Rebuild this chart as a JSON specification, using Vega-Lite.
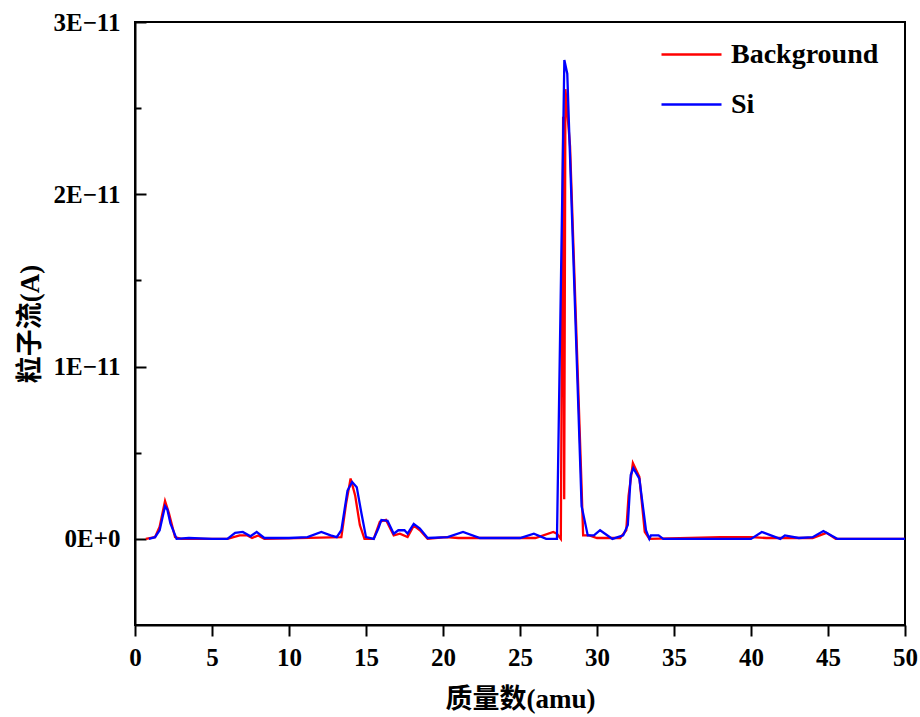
{
  "$schema": "https://vega.github.io/schema/vega-lite/v6.json",
  "width": 770,
  "height": 603,
  "autosize": "none",
  "padding": {"left": 135, "top": 22, "right": 15, "bottom": 92},
  "background": "white",
  "config": {
    "view": {"stroke": "black", "strokeWidth": 2},
    "font": "Liberation Serif"
  },
  "datasets": {
    "bg": [
      {"amu": 0.7, "v": 0.0}, {"amu": 1.3, "v": 0.01}, {"amu": 1.6, "v": 0.07}, {"amu": 1.95, "v": 0.22},
      {"amu": 2.2, "v": 0.15}, {"amu": 2.6, "v": 0.01}, {"amu": 3.0, "v": 0.0}, {"amu": 6.0, "v": 0.0},
      {"amu": 6.8, "v": 0.02}, {"amu": 7.3, "v": 0.02}, {"amu": 7.6, "v": 0.005}, {"amu": 8.0, "v": 0.02},
      {"amu": 8.4, "v": 0.0}, {"amu": 13.4, "v": 0.01}, {"amu": 13.7, "v": 0.2}, {"amu": 14.0, "v": 0.35},
      {"amu": 14.3, "v": 0.25}, {"amu": 14.6, "v": 0.08}, {"amu": 14.9, "v": 0.0}, {"amu": 15.5, "v": 0.0},
      {"amu": 15.9, "v": 0.1}, {"amu": 16.3, "v": 0.11}, {"amu": 16.8, "v": 0.02}, {"amu": 17.2, "v": 0.03},
      {"amu": 17.7, "v": 0.01}, {"amu": 18.1, "v": 0.077}, {"amu": 18.5, "v": 0.05}, {"amu": 19.0, "v": 0.0},
      {"amu": 20.2, "v": 0.01}, {"amu": 21.0, "v": 0.005}, {"amu": 26.0, "v": 0.005}, {"amu": 27.16, "v": 0.04},
      {"amu": 27.4, "v": 0.03}, {"amu": 27.65, "v": 0.0}, {"amu": 27.8, "v": 2.45}, {"amu": 27.87, "v": 0.23},
      {"amu": 27.95, "v": 2.61}, {"amu": 28.25, "v": 2.28}, {"amu": 29.0, "v": 0.3}, {"amu": 29.1, "v": 0.02},
      {"amu": 29.5, "v": 0.02}, {"amu": 30.0, "v": 0.005}, {"amu": 31.5, "v": 0.005}, {"amu": 31.9, "v": 0.05},
      {"amu": 32.05, "v": 0.25}, {"amu": 32.33, "v": 0.44}, {"amu": 32.75, "v": 0.36}, {"amu": 33.1, "v": 0.04},
      {"amu": 33.4, "v": 0.0}, {"amu": 38.0, "v": 0.01}, {"amu": 40.0, "v": 0.01}, {"amu": 41.0, "v": 0.005},
      {"amu": 44.0, "v": 0.005}, {"amu": 44.9, "v": 0.035}, {"amu": 45.5, "v": 0.0}, {"amu": 50.0, "v": 0.0}
    ],
    "si": [
      {"amu": 0.9, "v": 0.0}, {"amu": 1.3, "v": 0.01}, {"amu": 1.6, "v": 0.05}, {"amu": 1.95, "v": 0.19},
      {"amu": 2.1, "v": 0.17}, {"amu": 2.3, "v": 0.09}, {"amu": 2.7, "v": 0.0}, {"amu": 3.5, "v": 0.005},
      {"amu": 5.0, "v": 0.0}, {"amu": 6.0, "v": 0.0}, {"amu": 6.5, "v": 0.035}, {"amu": 7.0, "v": 0.04},
      {"amu": 7.5, "v": 0.015}, {"amu": 7.9, "v": 0.04}, {"amu": 8.4, "v": 0.005}, {"amu": 10.0, "v": 0.005},
      {"amu": 11.2, "v": 0.01}, {"amu": 12.1, "v": 0.04}, {"amu": 12.7, "v": 0.02}, {"amu": 13.1, "v": 0.01},
      {"amu": 13.4, "v": 0.05}, {"amu": 13.8, "v": 0.28}, {"amu": 14.1, "v": 0.33}, {"amu": 14.4, "v": 0.3},
      {"amu": 14.7, "v": 0.15}, {"amu": 15.0, "v": 0.01}, {"amu": 15.5, "v": 0.0}, {"amu": 15.8, "v": 0.06},
      {"amu": 16.0, "v": 0.11}, {"amu": 16.4, "v": 0.105}, {"amu": 16.8, "v": 0.03}, {"amu": 17.1, "v": 0.05},
      {"amu": 17.5, "v": 0.05}, {"amu": 17.7, "v": 0.03}, {"amu": 18.1, "v": 0.087}, {"amu": 18.5, "v": 0.06},
      {"amu": 19.0, "v": 0.005}, {"amu": 20.3, "v": 0.01}, {"amu": 21.3, "v": 0.04}, {"amu": 22.4, "v": 0.005},
      {"amu": 25.0, "v": 0.005}, {"amu": 25.9, "v": 0.03}, {"amu": 26.7, "v": 0.0}, {"amu": 27.4, "v": 0.0},
      {"amu": 27.88, "v": 2.78}, {"amu": 28.07, "v": 2.7}, {"amu": 29.0, "v": 0.19}, {"amu": 29.4, "v": 0.02},
      {"amu": 29.8, "v": 0.02}, {"amu": 30.2, "v": 0.05}, {"amu": 31.0, "v": 0.0}, {"amu": 31.7, "v": 0.02},
      {"amu": 32.0, "v": 0.08}, {"amu": 32.19, "v": 0.37}, {"amu": 32.36, "v": 0.41}, {"amu": 32.75, "v": 0.35},
      {"amu": 33.18, "v": 0.05}, {"amu": 33.4, "v": 0.0}, {"amu": 33.5, "v": 0.02}, {"amu": 34.0, "v": 0.02},
      {"amu": 34.3, "v": 0.0}, {"amu": 40.0, "v": 0.0}, {"amu": 40.7, "v": 0.04}, {"amu": 41.9, "v": 0.0},
      {"amu": 42.2, "v": 0.02}, {"amu": 43.1, "v": 0.005}, {"amu": 44.0, "v": 0.01}, {"amu": 44.7, "v": 0.045},
      {"amu": 45.6, "v": 0.0}, {"amu": 50.0, "v": 0.0}
    ]
  },
  "layer": [
    {
      "data": {"name": "bg"},
      "transform": [{"calculate": "'Background'", "as": "series"}, {"calculate": "datum.v * 1e-11", "as": "current"}],
      "mark": {"type": "line", "strokeWidth": 2.3, "clip": true},
      "encoding": {
        "x": {"field": "amu", "type": "quantitative"},
        "y": {"field": "current", "type": "quantitative"},
        "color": {"field": "series", "type": "nominal"}
      }
    },
    {
      "data": {"name": "si"},
      "transform": [{"calculate": "'Si'", "as": "series"}, {"calculate": "datum.v * 1e-11", "as": "current"}],
      "mark": {"type": "line", "strokeWidth": 2.3, "clip": true},
      "encoding": {
        "x": {
          "field": "amu", "type": "quantitative",
          "scale": {"domain": [0, 50], "nice": false, "zero": false},
          "axis": {
            "title": "质量数(amu)",
            "titleFont": "Liberation Serif, Noto Sans CJK SC",
            "titleFontSize": 27, "titleFontWeight": "bold", "titleColor": "black", "titlePadding": 16,
            "values": [0, 2.5, 5, 7.5, 10, 12.5, 15, 17.5, 20, 22.5, 25, 27.5, 30, 32.5, 35, 37.5, 40, 42.5, 45, 47.5, 50],
            "labelExpr": "datum.value % 5 == 0 ? datum.label : ''",
            "tickSize": {"condition": {"test": "datum.value % 5 == 0", "value": 11}, "value": 6},
            "labelFontSize": 25, "labelFontWeight": "bold", "labelColor": "black", "labelPadding": 9,
            "domainColor": "black", "domainWidth": 2, "tickColor": "black", "tickWidth": 2,
            "grid": false, "labelFlush": false
          }
        },
        "y": {
          "field": "current", "type": "quantitative",
          "scale": {"domain": [-5e-12, 3e-11], "nice": false, "zero": false},
          "axis": {
            "title": "粒子流(A)",
            "titleFont": "Liberation Serif, Noto Sans CJK SC",
            "titleFontSize": 27, "titleFontWeight": "bold", "titleColor": "black", "titlePadding": 8,
            "values": [0, 5e-12, 1e-11, 1.5e-11, 2e-11, 2.5e-11, 3e-11],
            "labelExpr": "abs(datum.value) < 1e-15 ? '0E+0' : (abs(datum.value / 1e-11 - round(datum.value / 1e-11)) < 0.01 ? round(datum.value / 1e-11) + 'E−11' : '')",
            "tickSize": {"condition": {"test": "abs(datum.value / 1e-11 - round(datum.value / 1e-11)) < 0.01", "value": -11}, "value": -6},
            "labelFontSize": 25, "labelFontWeight": "bold", "labelColor": "black", "labelPadding": 26,
            "domainColor": "black", "domainWidth": 2, "tickColor": "black", "tickWidth": 2,
            "grid": false, "labelFlush": false
          }
        },
        "color": {
          "field": "series", "type": "nominal",
          "scale": {"domain": ["Background", "Si"], "range": ["#ff0000", "#0000ff"]},
          "legend": {
            "title": null, "orient": "none", "legendX": 525, "legendY": 1,
            "symbolType": "stroke", "symbolSize": 3600, "symbolStrokeWidth": 2.3,
            "labelFontSize": 28, "labelFontWeight": "bold", "labelColor": "black",
            "labelFont": "Liberation Serif", "labelOffset": 8, "rowPadding": 4,
            "labelExpr": "datum.label == 'Si' ? '\u00a0\u00a0\u00a0Si' : datum.label"
          }
        }
      }
    }
  ]
}
